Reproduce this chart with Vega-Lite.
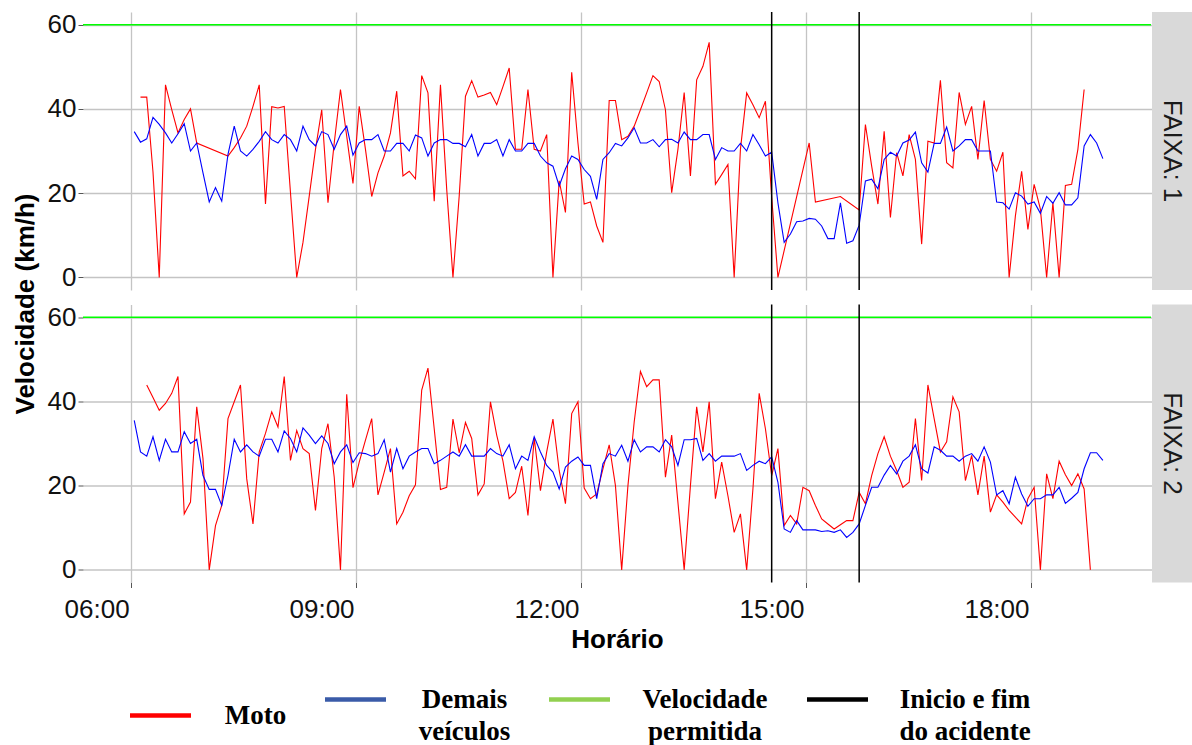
{
"$schema": "https://vega.github.io/schema/vega-lite/v6.json",
"background": "white",
"padding": {"left": 12, "top": 11, "right": 0, "bottom": 0},
"spacing": 14.5,
"bounds": "flush",
"datasets": {
"limite": [{"kmh": 60}],
"acidente": [{"min": 872.5}, {"min": 942.5}],
"legenda": [{"serie": "Moto"}, {"serie": "Demais veículos"}, {"serie": "Velocidade permitida"}, {"serie": "Inicio e fim do acidente"}],
"faixa1_demais": [
{"min":362.5,"kmh":34.6},{"min":367.5,"kmh":32.1},{"min":372.5,"kmh":32.9},{"min":377.5,"kmh":38.0},{"min":382.5,"kmh":36.3},{"min":387.5,"kmh":34.3},{"min":392.5,"kmh":31.9},{"min":397.5,"kmh":34.1},{"min":402.5,"kmh":36.5},{"min":407.5,"kmh":30.0},
{"min":412.5,"kmh":31.9},{"min":417.5,"kmh":24.8},{"min":422.5,"kmh":17.9},{"min":427.5,"kmh":21.3},{"min":432.5,"kmh":18.1},{"min":437.5,"kmh":29.2},{"min":442.5,"kmh":35.9},{"min":447.5,"kmh":30.0},{"min":452.5,"kmh":28.8},{"min":457.5,"kmh":30.4},
{"min":462.5,"kmh":32.3},{"min":467.5,"kmh":34.6},{"min":472.5,"kmh":32.7},{"min":477.5,"kmh":31.9},{"min":482.5,"kmh":33.9},{"min":487.5,"kmh":32.7},{"min":492.5,"kmh":30.0},{"min":497.5,"kmh":35.9},{"min":502.5,"kmh":32.7},{"min":507.5,"kmh":31.2},
{"min":512.5,"kmh":34.6},{"min":517.5,"kmh":33.9},{"min":522.5,"kmh":30.4},{"min":527.5,"kmh":33.9},{"min":532.5,"kmh":35.9},{"min":537.5,"kmh":29.0},{"min":542.5,"kmh":31.9},{"min":547.5,"kmh":32.7},{"min":552.5,"kmh":32.7},{"min":557.5,"kmh":33.9},
{"min":562.5,"kmh":30.0},{"min":567.5,"kmh":30.0},{"min":572.5,"kmh":31.8},{"min":577.5,"kmh":31.8},{"min":582.5,"kmh":30.0},{"min":587.5,"kmh":33.8},{"min":592.5,"kmh":33.1},{"min":597.5,"kmh":28.8},{"min":602.5,"kmh":31.9},{"min":607.5,"kmh":32.7},
{"min":612.5,"kmh":32.7},{"min":617.5,"kmh":31.8},{"min":622.5,"kmh":31.8},{"min":627.5,"kmh":31.0},{"min":632.5,"kmh":33.9},{"min":637.5,"kmh":28.8},{"min":642.5,"kmh":31.8},{"min":647.5,"kmh":31.8},{"min":652.5,"kmh":32.7},{"min":657.5,"kmh":28.8},
{"min":662.5,"kmh":32.7},{"min":667.5,"kmh":30.0},{"min":672.5,"kmh":30.0},{"min":677.5,"kmh":31.8},{"min":682.5,"kmh":31.8},{"min":687.5,"kmh":28.8},{"min":692.5,"kmh":27.2},{"min":697.5,"kmh":26.4},{"min":702.5,"kmh":21.7},{"min":707.5,"kmh":25.8},
{"min":712.5,"kmh":28.8},{"min":717.5,"kmh":28.0},{"min":722.5,"kmh":25.6},{"min":727.5,"kmh":24.0},{"min":732.5,"kmh":18.5},{"min":737.5,"kmh":28.0},{"min":742.5,"kmh":29.6},{"min":747.5,"kmh":31.8},{"min":752.5,"kmh":31.2},{"min":757.5,"kmh":33.1},
{"min":762.5,"kmh":35.5},{"min":767.5,"kmh":31.9},{"min":772.5,"kmh":31.9},{"min":777.5,"kmh":32.7},{"min":782.5,"kmh":31.0},{"min":787.5,"kmh":32.7},{"min":792.5,"kmh":32.8},{"min":797.5,"kmh":31.9},{"min":802.5,"kmh":34.5},{"min":807.5,"kmh":32.7},
{"min":812.5,"kmh":32.7},{"min":817.5,"kmh":33.9},{"min":822.5,"kmh":33.9},{"min":827.5,"kmh":28.0},{"min":832.5,"kmh":30.8},{"min":837.5,"kmh":30.0},{"min":842.5,"kmh":30.0},{"min":847.5,"kmh":31.8},{"min":852.5,"kmh":30.0},{"min":857.5,"kmh":33.9},
{"min":862.5,"kmh":31.5},{"min":867.5,"kmh":28.8},{"min":872.5,"kmh":29.7},{"min":877.5,"kmh":17.7},{"min":882.5,"kmh":8.3},{"min":887.5,"kmh":10.3},{"min":892.5,"kmh":13.2},{"min":897.5,"kmh":13.4},{"min":902.5,"kmh":14.0},{"min":907.5,"kmh":13.8},
{"min":912.5,"kmh":12.2},{"min":917.5,"kmh":9.2},{"min":922.5,"kmh":9.2},{"min":927.5,"kmh":17.7},{"min":932.5,"kmh":8.1},{"min":937.5,"kmh":8.7},{"min":942.5,"kmh":12.4},{"min":947.5,"kmh":22.9},{"min":952.5,"kmh":23.3},{"min":957.5,"kmh":21.0},
{"min":962.5,"kmh":28.0},{"min":967.5,"kmh":29.7},{"min":972.5,"kmh":28.8},{"min":977.5,"kmh":31.9},{"min":982.5,"kmh":32.6},{"min":987.5,"kmh":34.5},{"min":992.5,"kmh":27.2},{"min":997.5,"kmh":25.0},{"min":1002.5,"kmh":31.8},{"min":1007.5,"kmh":31.8},
{"min":1012.5,"kmh":35.7},{"min":1017.5,"kmh":30.0},{"min":1022.5,"kmh":31.2},{"min":1027.5,"kmh":32.7},{"min":1032.5,"kmh":32.7},{"min":1037.5,"kmh":30.0},{"min":1042.5,"kmh":30.0},{"min":1047.5,"kmh":30.0},{"min":1052.5,"kmh":17.9},{"min":1057.5,"kmh":17.7},
{"min":1062.5,"kmh":16.2},{"min":1067.5,"kmh":20.1},{"min":1072.5,"kmh":19.3},{"min":1077.5,"kmh":17.4},{"min":1082.5,"kmh":17.9},{"min":1087.5,"kmh":15.2},{"min":1092.5,"kmh":19.2},{"min":1097.5,"kmh":17.6},{"min":1102.5,"kmh":20.1},{"min":1107.5,"kmh":17.2},
{"min":1112.5,"kmh":17.2},{"min":1117.5,"kmh":18.9},{"min":1122.5,"kmh":31.2},{"min":1127.5,"kmh":33.9},{"min":1132.5,"kmh":31.9},{"min":1137.5,"kmh":28.2}
],
"faixa1_moto": [
{"min":367.5,"kmh":42.8},{"min":372.5,"kmh":42.8},{"min":377.5,"kmh":25.0},{"min":382.5,"kmh":0},{"min":387.5,"kmh":45.7},{"min":392.5,"kmh":39.8},{"min":397.5,"kmh":34.3},{"min":402.5,"kmh":37.5},{"min":407.5,"kmh":40.0},{"min":412.5,"kmh":31.9},
{"min":437.5,"kmh":28.8},{"min":442.5,"kmh":30.8},{"min":447.5,"kmh":33.1},{"min":452.5,"kmh":35.9},{"min":457.5,"kmh":40.6},
{"min":462.5,"kmh":45.7},{"min":467.5,"kmh":17.4},{"min":472.5,"kmh":40.5},{"min":477.5,"kmh":40.2},{"min":482.5,"kmh":40.6},{"min":487.5,"kmh":20.1},{"min":492.5,"kmh":0},{"min":497.5,"kmh":8.3},{"min":502.5,"kmh":19.3},{"min":507.5,"kmh":30.4},
{"min":512.5,"kmh":39.8},{"min":517.5,"kmh":17.7},{"min":522.5,"kmh":31.9},{"min":527.5,"kmh":44.6},{"min":532.5,"kmh":33.5},{"min":537.5,"kmh":22.3},{"min":542.5,"kmh":40.6},{"min":547.5,"kmh":30.4},{"min":552.5,"kmh":19.2},{"min":557.5,"kmh":24.8},
{"min":562.5,"kmh":28.8},{"min":567.5,"kmh":34.3},{"min":572.5,"kmh":44.2},{"min":577.5,"kmh":24.1},{"min":582.5,"kmh":25.2},{"min":587.5,"kmh":23.4},{"min":592.5,"kmh":47.9},{"min":597.5,"kmh":43.8},{"min":602.5,"kmh":18.1},{"min":607.5,"kmh":45.7},
{"min":612.5,"kmh":20.9},{"min":617.5,"kmh":0},{"min":622.5,"kmh":19.3},{"min":627.5,"kmh":43.0},{"min":632.5,"kmh":46.7},{"min":637.5,"kmh":42.8},{"min":642.5,"kmh":43.3},{"min":647.5,"kmh":43.9},{"min":652.5,"kmh":41.0},{"min":657.5,"kmh":45.3},
{"min":662.5,"kmh":49.7},{"min":667.5,"kmh":30.4},{"min":672.5,"kmh":30.4},{"min":677.5,"kmh":44.6},{"min":682.5,"kmh":30.4},{"min":687.5,"kmh":30.0},{"min":692.5,"kmh":33.9},{"min":697.5,"kmh":0},{"min":702.5,"kmh":22.9},{"min":707.5,"kmh":15.4},
{"min":712.5,"kmh":48.7},{"min":717.5,"kmh":31.9},{"min":722.5,"kmh":17.4},{"min":727.5,"kmh":17.9},{"min":732.5,"kmh":12.2},{"min":737.5,"kmh":8.3},{"min":742.5,"kmh":42.0},{"min":747.5,"kmh":42.0},{"min":752.5,"kmh":32.7},{"min":757.5,"kmh":33.5},
{"min":762.5,"kmh":35.9},{"min":767.5,"kmh":39.8},{"min":772.5,"kmh":43.8},{"min":777.5,"kmh":47.9},{"min":782.5,"kmh":46.5},{"min":787.5,"kmh":39.8},{"min":792.5,"kmh":20.1},{"min":797.5,"kmh":30.4},{"min":802.5,"kmh":43.9},{"min":807.5,"kmh":24.1},
{"min":812.5,"kmh":46.9},{"min":817.5,"kmh":50.1},{"min":822.5,"kmh":55.8},{"min":827.5,"kmh":22.1},{"min":832.5,"kmh":24.4},{"min":837.5,"kmh":26.8},{"min":842.5,"kmh":0},{"min":847.5,"kmh":30.4},{"min":852.5,"kmh":43.8},{"min":857.5,"kmh":41.0},
{"min":862.5,"kmh":37.9},{"min":867.5,"kmh":41.8},{"min":872.5,"kmh":19.0},{"min":877.5,"kmh":0},
{"min":902.5,"kmh":31.9},{"min":907.5,"kmh":17.9},{"min":927.5,"kmh":19.2},{"min":942.5,"kmh":16.0},{"min":947.5,"kmh":36.3},{"min":952.5,"kmh":26.4},{"min":957.5,"kmh":17.4},
{"min":962.5,"kmh":34.7},{"min":967.5,"kmh":14.2},{"min":972.5,"kmh":29.6},{"min":977.5,"kmh":24.1},{"min":982.5,"kmh":33.9},{"min":987.5,"kmh":28.0},{"min":992.5,"kmh":7.9},{"min":997.5,"kmh":32.3},{"min":1002.5,"kmh":31.9},{"min":1007.5,"kmh":46.8},
{"min":1012.5,"kmh":27.2},{"min":1017.5,"kmh":26.0},{"min":1022.5,"kmh":43.9},{"min":1027.5,"kmh":36.3},{"min":1032.5,"kmh":40.6},{"min":1037.5,"kmh":28.0},{"min":1042.5,"kmh":42.0},{"min":1047.5,"kmh":28.0},{"min":1052.5,"kmh":25.2},{"min":1057.5,"kmh":29.7},
{"min":1062.5,"kmh":0},{"min":1067.5,"kmh":14.6},{"min":1072.5,"kmh":25.2},{"min":1077.5,"kmh":11.4},{"min":1082.5,"kmh":22.1},{"min":1087.5,"kmh":16.2},{"min":1092.5,"kmh":0},{"min":1097.5,"kmh":17.7},{"min":1102.5,"kmh":0},{"min":1107.5,"kmh":21.8},
{"min":1112.5,"kmh":22.1},{"min":1117.5,"kmh":30.4},{"min":1122.5,"kmh":44.6}
],
"faixa2_demais": [
{"min":362.5,"kmh":35.5},{"min":367.5,"kmh":28.0},{"min":372.5,"kmh":27.0},{"min":377.5,"kmh":31.6},{"min":382.5,"kmh":26.0},{"min":387.5,"kmh":31.0},{"min":392.5,"kmh":28.0},{"min":397.5,"kmh":28.0},{"min":402.5,"kmh":32.8},{"min":407.5,"kmh":30.0},
{"min":412.5,"kmh":31.0},{"min":417.5,"kmh":22.4},{"min":422.5,"kmh":19.1},{"min":427.5,"kmh":19.1},{"min":432.5,"kmh":15.3},{"min":437.5,"kmh":22.4},{"min":442.5,"kmh":31.0},{"min":447.5,"kmh":28.0},{"min":452.5,"kmh":29.7},{"min":457.5,"kmh":28.0},
{"min":462.5,"kmh":27.0},{"min":467.5,"kmh":31.0},{"min":472.5,"kmh":31.0},{"min":477.5,"kmh":28.0},{"min":482.5,"kmh":33.0},{"min":487.5,"kmh":31.2},{"min":492.5,"kmh":28.0},{"min":497.5,"kmh":33.7},{"min":502.5,"kmh":32.0},{"min":507.5,"kmh":30.0},
{"min":512.5,"kmh":31.8},{"min":517.5,"kmh":30.0},{"min":522.5,"kmh":25.2},{"min":527.5,"kmh":28.0},{"min":532.5,"kmh":29.7},{"min":537.5,"kmh":25.5},{"min":542.5,"kmh":27.8},{"min":547.5,"kmh":27.6},{"min":552.5,"kmh":27.0},{"min":557.5,"kmh":27.6},
{"min":562.5,"kmh":30.9},{"min":567.5,"kmh":23.2},{"min":572.5,"kmh":28.8},{"min":577.5,"kmh":24.0},{"min":582.5,"kmh":27.0},{"min":587.5,"kmh":28.0},{"min":592.5,"kmh":28.8},{"min":597.5,"kmh":28.8},{"min":602.5,"kmh":25.2},{"min":607.5,"kmh":26.0},
{"min":612.5,"kmh":27.0},{"min":617.5,"kmh":28.0},{"min":622.5,"kmh":27.0},{"min":627.5,"kmh":29.7},{"min":632.5,"kmh":27.0},{"min":637.5,"kmh":27.0},{"min":642.5,"kmh":27.0},{"min":647.5,"kmh":28.8},{"min":652.5,"kmh":27.6},{"min":657.5,"kmh":27.0},
{"min":662.5,"kmh":29.7},{"min":667.5,"kmh":24.0},{"min":672.5,"kmh":27.0},{"min":677.5,"kmh":26.0},{"min":682.5,"kmh":31.6},{"min":687.5,"kmh":28.0},{"min":692.5,"kmh":24.8},{"min":697.5,"kmh":23.2},{"min":702.5,"kmh":19.2},{"min":707.5,"kmh":24.4},
{"min":712.5,"kmh":25.8},{"min":717.5,"kmh":26.8},{"min":722.5,"kmh":24.8},{"min":727.5,"kmh":24.8},{"min":732.5,"kmh":16.9},{"min":737.5,"kmh":25.2},{"min":742.5,"kmh":27.6},{"min":747.5,"kmh":27.0},{"min":752.5,"kmh":29.6},{"min":757.5,"kmh":25.8},
{"min":762.5,"kmh":30.9},{"min":767.5,"kmh":28.0},{"min":772.5,"kmh":29.2},{"min":777.5,"kmh":29.2},{"min":782.5,"kmh":28.0},{"min":787.5,"kmh":30.9},{"min":792.5,"kmh":29.2},{"min":797.5,"kmh":24.8},{"min":802.5,"kmh":30.9},{"min":807.5,"kmh":30.9},
{"min":812.5,"kmh":31.2},{"min":817.5,"kmh":26.0},{"min":822.5,"kmh":27.6},{"min":827.5,"kmh":25.8},{"min":832.5,"kmh":27.0},{"min":837.5,"kmh":27.0},{"min":842.5,"kmh":27.0},{"min":847.5,"kmh":27.6},{"min":852.5,"kmh":23.6},{"min":857.5,"kmh":24.8},
{"min":862.5,"kmh":25.8},{"min":867.5,"kmh":25.2},{"min":872.5,"kmh":26.8},{"min":877.5,"kmh":20.8},{"min":882.5,"kmh":9.7},{"min":887.5,"kmh":8.9},{"min":892.5,"kmh":11.7},{"min":897.5,"kmh":9.5},{"min":902.5,"kmh":9.5},{"min":907.5,"kmh":9.5},
{"min":912.5,"kmh":9.1},{"min":917.5,"kmh":9.3},{"min":922.5,"kmh":8.9},{"min":927.5,"kmh":9.5},{"min":932.5,"kmh":7.7},{"min":937.5,"kmh":8.9},{"min":942.5,"kmh":10.9},{"min":947.5,"kmh":15.3},{"min":952.5,"kmh":19.6},{"min":957.5,"kmh":19.6},
{"min":962.5,"kmh":22.5},{"min":967.5,"kmh":24.8},{"min":972.5,"kmh":22.8},{"min":977.5,"kmh":25.8},{"min":982.5,"kmh":27.0},{"min":987.5,"kmh":29.7},{"min":992.5,"kmh":24.0},{"min":997.5,"kmh":23.0},{"min":1002.5,"kmh":29.2},{"min":1007.5,"kmh":28.4},
{"min":1012.5,"kmh":27.0},{"min":1017.5,"kmh":27.0},{"min":1022.5,"kmh":25.8},{"min":1027.5,"kmh":27.0},{"min":1032.5,"kmh":27.6},{"min":1037.5,"kmh":25.8},{"min":1042.5,"kmh":29.2},{"min":1047.5,"kmh":25.6},{"min":1052.5,"kmh":17.8},{"min":1057.5,"kmh":18.8},
{"min":1062.5,"kmh":15.7},{"min":1067.5,"kmh":22.0},{"min":1072.5,"kmh":18.0},{"min":1077.5,"kmh":15.1},{"min":1082.5,"kmh":16.9},{"min":1087.5,"kmh":16.9},{"min":1092.5,"kmh":17.8},{"min":1097.5,"kmh":17.8},{"min":1102.5,"kmh":19.6},{"min":1107.5,"kmh":15.8},
{"min":1112.5,"kmh":17.0},{"min":1117.5,"kmh":18.4},{"min":1122.5,"kmh":24.0},{"min":1127.5,"kmh":27.8},{"min":1132.5,"kmh":27.8},{"min":1137.5,"kmh":26.0}
],
"faixa2_moto": [
{"min":372.5,"kmh":43.9},{"min":377.5,"kmh":40.9},{"min":382.5,"kmh":37.9},{"min":387.5,"kmh":39.5},{"min":392.5,"kmh":41.9},{"min":397.5,"kmh":45.9},{"min":402.5,"kmh":13.3},{"min":407.5,"kmh":16.1},
{"min":412.5,"kmh":38.7},{"min":417.5,"kmh":26.4},{"min":422.5,"kmh":0},{"min":427.5,"kmh":10.5},{"min":432.5,"kmh":15.3},{"min":437.5,"kmh":35.9},{"min":442.5,"kmh":39.9},{"min":447.5,"kmh":43.9},{"min":452.5,"kmh":21.6},{"min":457.5,"kmh":10.9},
{"min":462.5,"kmh":28.0},{"min":467.5,"kmh":32.4},{"min":472.5,"kmh":37.5},{"min":477.5,"kmh":33.9},{"min":482.5,"kmh":45.9},{"min":487.5,"kmh":26.0},{"min":492.5,"kmh":33.1},{"min":497.5,"kmh":28.8},{"min":502.5,"kmh":27.6},{"min":507.5,"kmh":14.1},
{"min":512.5,"kmh":28.8},{"min":517.5,"kmh":34.7},{"min":522.5,"kmh":22.0},{"min":527.5,"kmh":0},{"min":532.5,"kmh":41.7},{"min":537.5,"kmh":19.5},{"min":542.5,"kmh":25.6},{"min":547.5,"kmh":30.8},{"min":552.5,"kmh":35.9},{"min":557.5,"kmh":17.8},
{"min":562.5,"kmh":23.2},{"min":567.5,"kmh":28.8},{"min":572.5,"kmh":10.9},{"min":577.5,"kmh":13.7},{"min":582.5,"kmh":17.6},{"min":587.5,"kmh":20.2},{"min":592.5,"kmh":42.7},{"min":597.5,"kmh":47.9},{"min":602.5,"kmh":33.5},{"min":607.5,"kmh":19.1},
{"min":612.5,"kmh":19.6},{"min":617.5,"kmh":35.8},{"min":622.5,"kmh":27.8},{"min":627.5,"kmh":35.0},{"min":632.5,"kmh":31.2},{"min":637.5,"kmh":17.8},{"min":642.5,"kmh":20.4},{"min":647.5,"kmh":39.9},{"min":652.5,"kmh":32.0},{"min":657.5,"kmh":25.8},
{"min":662.5,"kmh":16.9},{"min":667.5,"kmh":18.4},{"min":672.5,"kmh":24.6},{"min":677.5,"kmh":12.9},{"min":682.5,"kmh":31.3},{"min":687.5,"kmh":18.8},{"min":692.5,"kmh":28.0},{"min":697.5,"kmh":35.8},{"min":702.5,"kmh":23.6},{"min":707.5,"kmh":15.7},
{"min":712.5,"kmh":37.1},{"min":717.5,"kmh":39.9},{"min":722.5,"kmh":19.4},{"min":727.5,"kmh":16.9},{"min":732.5,"kmh":18.0},{"min":737.5,"kmh":24.0},{"min":742.5,"kmh":29.7},{"min":747.5,"kmh":20.0},{"min":752.5,"kmh":0},{"min":757.5,"kmh":20.0},
{"min":762.5,"kmh":35.1},{"min":767.5,"kmh":47.1},{"min":772.5,"kmh":43.5},{"min":777.5,"kmh":45.1},{"min":782.5,"kmh":45.1},{"min":787.5,"kmh":22.0},{"min":792.5,"kmh":32.0},{"min":797.5,"kmh":16.0},{"min":802.5,"kmh":0},{"min":807.5,"kmh":20.0},
{"min":812.5,"kmh":38.7},{"min":817.5,"kmh":28.0},{"min":822.5,"kmh":39.9},{"min":827.5,"kmh":16.9},{"min":832.5,"kmh":25.6},{"min":837.5,"kmh":17.6},{"min":842.5,"kmh":8.9},{"min":847.5,"kmh":13.3},{"min":852.5,"kmh":0},{"min":857.5,"kmh":19.2},
{"min":862.5,"kmh":41.9},{"min":867.5,"kmh":33.5},{"min":872.5,"kmh":22.4},{"min":877.5,"kmh":28.8},{"min":882.5,"kmh":10.5},{"min":887.5,"kmh":12.9},{"min":892.5,"kmh":10.9},{"min":897.5,"kmh":19.6},{"min":902.5,"kmh":18.8},{"min":907.5,"kmh":15.3},
{"min":912.5,"kmh":12.1},{"min":917.5,"kmh":10.9},{"min":922.5,"kmh":9.7},{"min":927.5,"kmh":10.7},{"min":932.5,"kmh":11.7},{"min":937.5,"kmh":11.7},{"min":942.5,"kmh":18.4},{"min":947.5,"kmh":15.7},{"min":952.5,"kmh":22.4},{"min":957.5,"kmh":27.6},
{"min":962.5,"kmh":31.6},{"min":967.5,"kmh":27.0},{"min":972.5,"kmh":23.6},{"min":977.5,"kmh":19.6},{"min":982.5,"kmh":20.8},{"min":987.5,"kmh":35.9},{"min":992.5,"kmh":21.2},{"min":997.5,"kmh":43.9},{"min":1002.5,"kmh":35.9},{"min":1007.5,"kmh":28.0},
{"min":1012.5,"kmh":30.4},{"min":1017.5,"kmh":41.1},{"min":1022.5,"kmh":37.5},{"min":1027.5,"kmh":21.2},{"min":1032.5,"kmh":27.2},{"min":1037.5,"kmh":17.8},{"min":1042.5,"kmh":27.0},{"min":1047.5,"kmh":13.7},{"min":1052.5,"kmh":17.8},{"min":1057.5,"kmh":16.1},
{"min":1062.5,"kmh":14.1},{"min":1067.5,"kmh":12.5},{"min":1072.5,"kmh":10.9},{"min":1077.5,"kmh":16.9},{"min":1082.5,"kmh":19.6},{"min":1087.5,"kmh":0},{"min":1092.5,"kmh":22.8},{"min":1097.5,"kmh":16.9},{"min":1102.5,"kmh":25.8},{"min":1107.5,"kmh":22.6},
{"min":1112.5,"kmh":20.0},{"min":1117.5,"kmh":22.8},{"min":1122.5,"kmh":19.2},{"min":1127.5,"kmh":0}
]
},
"config": {
"view": {"stroke": null},
"axis": {"labelFont": "Liberation Sans", "labelFontSize": 26, "labelColor": "#111111", "titleFont": "Liberation Sans", "titleFontSize": 26, "titleFontWeight": "bold", "titleColor": "#000000", "gridColor": "#C4C4C4", "gridWidth": 1.3, "tickColor": "#555555", "tickSize": 5, "domain": false},
"axisY": {"labelPadding": 2, "titlePadding": 9}
},
"vconcat": [
{"width": 1109, "height": 278,
"layer": [
{"data": {"values": [{"faixa": "FAIXA: 1"}]}, "mark": {"type": "rect", "color": "#D9D9D9"},
"encoding": {
"x": {"datum": 1176.8, "type": "quantitative", "scale": {"domain": [321.5, 1208.8], "nice": false, "zero": false}, "axis": {"values": [360, 540, 720, 900, 1080], "labels": false, "ticks": false, "title": null, "grid": true}},
"x2": {"datum": 1208.8},
"y": {"datum": -3, "type": "quantitative", "scale": {"domain": [-3, 63], "nice": false, "zero": false}, "axis": {"values": [0, 20, 40, 60], "title": "Velocidade (km/h)", "titleY": 291.5, "grid": true}},
"y2": {"datum": 63}
}},
{"data": {"values": [{"faixa": "FAIXA: 1"}]}, "mark": {"type": "text", "angle": 90, "font": "Liberation Sans", "fontSize": 26, "color": "#1A1A1A", "align": "center", "baseline": "middle"},
"encoding": {
"x": {"datum": 1192.8, "type": "quantitative"},
"y": {"datum": 30, "type": "quantitative"},
"text": {"field": "faixa", "type": "nominal"}
}},
{"data": {"name": "legenda"}, "mark": {"type": "rule", "strokeWidth": 1},
"encoding": {
"x": {"datum": 1200, "type": "quantitative"},
"y": {"datum": 30, "type": "quantitative"},
"y2": {"datum": 30},
"color": {"field": "serie", "type": "nominal",
"scale": {"domain": ["Moto", "Demais veículos", "Velocidade permitida", "Inicio e fim do acidente"], "range": ["#FF0000", "#3A5BA8", "#92D050", "#000000"]},
"legend": {"title": null, "orient": "none", "legendX": 44.5, "legendY": 654.5, "direction": "horizontal", "columns": 4, "symbolType": "stroke", "symbolSize": 3721, "symbolStrokeWidth": 4.5, "labelFont": "Liberation Serif", "labelFontSize": 27, "labelFontWeight": "bold", "labelColor": "#000000", "labelOffset": 29, "columnPadding": 29, "labelLimit": 400, "padding": 0,
"labelExpr": "datum.label == 'Demais veículos' ? ['Demais', 'veículos'] : datum.label == 'Velocidade permitida' ? ['Velocidade', 'permitida'] : datum.label == 'Inicio e fim do acidente' ? ['Inicio e fim', 'do acidente'] : datum.label",
"encode": {"labels": {"update": {"lineHeight": {"value": 32}, "align": {"value": "center"}, "dx": {"signal": "datum.value == 'Moto' ? 33 : datum.value == 'Demais veículos' ? 47 : datum.value == 'Velocidade permitida' ? 63.5 : 65.5"}}}}}}
}},
{"data": {"name": "limite"}, "mark": {"type": "rule", "strokeWidth": 1.5, "color": "#00FF00"},
"encoding": {
"x": {"datum": 321.5, "type": "quantitative"},
"x2": {"datum": 1176},
"y": {"field": "kmh", "type": "quantitative"}
}},
{"data": {"name": "faixa1_moto"}, "mark": {"type": "line", "strokeWidth": 1.1, "color": "#FF0000"},
"encoding": {
"x": {"field": "min", "type": "quantitative"},
"y": {"field": "kmh", "type": "quantitative"}
}},
{"data": {"name": "faixa1_demais"}, "mark": {"type": "line", "strokeWidth": 1.1, "color": "#0000FF"},
"encoding": {
"x": {"field": "min", "type": "quantitative"},
"y": {"field": "kmh", "type": "quantitative"}
}},
{"data": {"name": "acidente"}, "mark": {"type": "rule", "strokeWidth": 1.5, "color": "#000000"},
"encoding": {
"x": {"field": "min", "type": "quantitative"}
}}
]},
{"width": 1109, "height": 278,
"layer": [
{"data": {"values": [{"faixa": "FAIXA: 2"}]}, "mark": {"type": "rect", "color": "#D9D9D9"},
"encoding": {
"x": {"datum": 1176.8, "type": "quantitative", "scale": {"domain": [321.5, 1208.8], "nice": false, "zero": false}, "axis": {"values": [360, 540, 720, 900, 1080], "title": "Horário", "titleX": 534, "labelAlign": "right", "labelOffset": -2, "labelPadding": 9, "titlePadding": 4, "grid": true, "labelExpr": "(datum.value < 600 ? '0' : '') + floor(datum.value / 60) + ':00'"}},
"x2": {"datum": 1208.8},
"y": {"datum": -3, "type": "quantitative", "scale": {"domain": [-3, 63], "nice": false, "zero": false}, "axis": {"values": [0, 20, 40, 60], "title": null, "grid": true}},
"y2": {"datum": 63}
}},
{"data": {"values": [{"faixa": "FAIXA: 2"}]}, "mark": {"type": "text", "angle": 90, "font": "Liberation Sans", "fontSize": 26, "color": "#1A1A1A", "align": "center", "baseline": "middle"},
"encoding": {
"x": {"datum": 1192.8, "type": "quantitative"},
"y": {"datum": 30, "type": "quantitative"},
"text": {"field": "faixa", "type": "nominal"}
}},
{"data": {"name": "limite"}, "mark": {"type": "rule", "strokeWidth": 1.5, "color": "#00FF00"},
"encoding": {
"x": {"datum": 321.5, "type": "quantitative"},
"x2": {"datum": 1176},
"y": {"field": "kmh", "type": "quantitative"}
}},
{"data": {"name": "faixa2_moto"}, "mark": {"type": "line", "strokeWidth": 1.1, "color": "#FF0000"},
"encoding": {
"x": {"field": "min", "type": "quantitative"},
"y": {"field": "kmh", "type": "quantitative"}
}},
{"data": {"name": "faixa2_demais"}, "mark": {"type": "line", "strokeWidth": 1.1, "color": "#0000FF"},
"encoding": {
"x": {"field": "min", "type": "quantitative"},
"y": {"field": "kmh", "type": "quantitative"}
}},
{"data": {"name": "acidente"}, "mark": {"type": "rule", "strokeWidth": 1.5, "color": "#000000"},
"encoding": {
"x": {"field": "min", "type": "quantitative"}
}}
]}
]
}
